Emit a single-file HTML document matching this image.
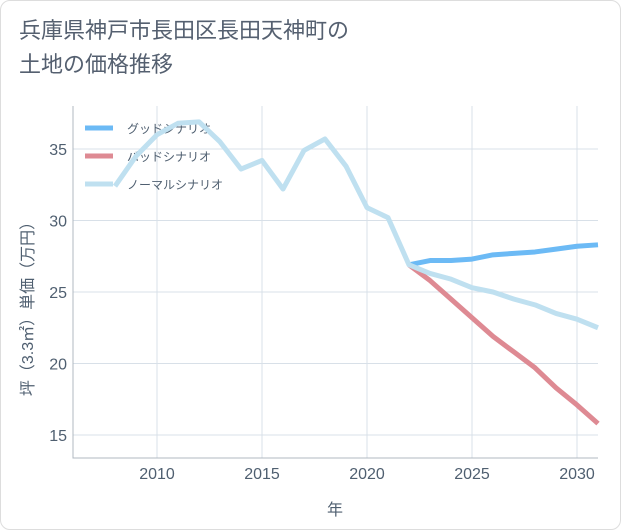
<!DOCTYPE html>
<html><head><meta charset="utf-8"><style>
body{margin:0;background:#fff;}
.wrap{width:619px;height:528px;border:1px solid #ddd;border-radius:10px;position:relative;overflow:hidden;font-family:"Liberation Sans","Noto Sans CJK JP",sans-serif;}
.title{position:absolute;left:18px;top:13px;font-size:22px;line-height:34px;color:#556070;}
</style></head><body>
<div class="wrap">
<div class="title">兵庫県神戸市長田区長田天神町の<br>土地の価格推移</div>
<svg id="c" width="621" height="530" style="position:absolute;left:0;top:0"></svg>
</div>
<script>
const years=[2008,2009,2010,2011,2012,2013,2014,2015,2016,2017,2018,2019,2020,2021,2022,2023,2024,2025,2026,2027,2028,2029,2030,2031];
const normal=[32.4,34.5,36.0,36.8,36.9,35.5,33.6,34.2,32.2,34.9,35.7,33.8,30.9,30.2,26.9,26.3,25.9,25.3,25.0,24.5,24.1,23.5,23.1,22.5];
const goodYears=[2022,2023,2024,2025,2026,2027,2028,2029,2030,2031];
const good=[26.9,27.2,27.2,27.3,27.6,27.7,27.8,28.0,28.2,28.3];
const bad=[26.9,25.8,24.5,23.2,21.9,20.8,19.7,18.3,17.1,15.8];
const xTicks=[2010,2015,2020,2025,2030];
const yTicks=[15,20,25,30,35];
const L=72,R=597,T=105,B=457;
const x=v=>L+(v-2006)*21;
const y=v=>148+(35-v)*14.3;
const s=document.getElementById('c');const NS='http://www.w3.org/2000/svg';
const TC='#4f5f70';
function mk(t,a,p){const e=document.createElementNS(NS,t);for(const k in a)e.setAttribute(k,a[k]);(p||s).appendChild(e);return e;}
const bg=mk('rect',{x:L,y:T,width:R-L,height:B-T,fill:'#fff',stroke:'none'});


xTicks.forEach(t=>{const g=mk('line',{x1:x(t),x2:x(t),y1:T,y2:B,stroke:'#d8e0e8'});


const tx=mk('text',{x:x(t),y:B+21,'text-anchor':'middle','font-size':16,fill:TC});tx.textContent=t;

});
yTicks.forEach(t=>{const g=mk('line',{x1:L,x2:R,y1:y(t),y2:y(t),stroke:'#d8e0e8'});


const tx=mk('text',{x:L-6,y:y(t)+6,'text-anchor':'end','font-size':16,fill:TC});tx.textContent=t;

});
const ax=mk('path',{d:`M${L} ${T}V${B}H${R}`,stroke:'#b0b8c0',fill:'none'});


const xt=mk('text',{x:334,y:514,'text-anchor':'middle','font-size':16,fill:TC});xt.textContent='年';


const yt=mk('text',{x:0,y:0,'text-anchor':'middle','font-size':16,fill:TC,transform:'translate(32,304) rotate(-90)'});yt.textContent='坪（3.3㎡）単価（万円）';


const leg=[['グッドシナリオ','#6cbaf5'],['バッドシナリオ','#de8a93'],['ノーマルシナリオ','#bfe0f0']];
leg.forEach((l,i)=>{const yy=127+i*28;
const ln=mk('line',{x1:84,x2:112,y1:yy,y2:yy,stroke:l[1],'stroke-width':5});


const tx=mk('text',{x:126,y:yy+5,'font-size':12,fill:TC});tx.textContent=l[0];

});
function line(xs,vs,c,name){const d=vs.map((v,i)=>(i?'L':'M')+x(xs[i])+' '+y(v)).join('');
const p=mk('path',{d:d,stroke:c,'stroke-width':5,fill:'none','stroke-linejoin':'round'});

}
line(goodYears,bad,'#de8a93','bad-scenario-line');
line(goodYears,good,'#6cbaf5','good-scenario-line');
line(years,normal,'#bfe0f0','normal-scenario-line');
</script>
</body></html>
